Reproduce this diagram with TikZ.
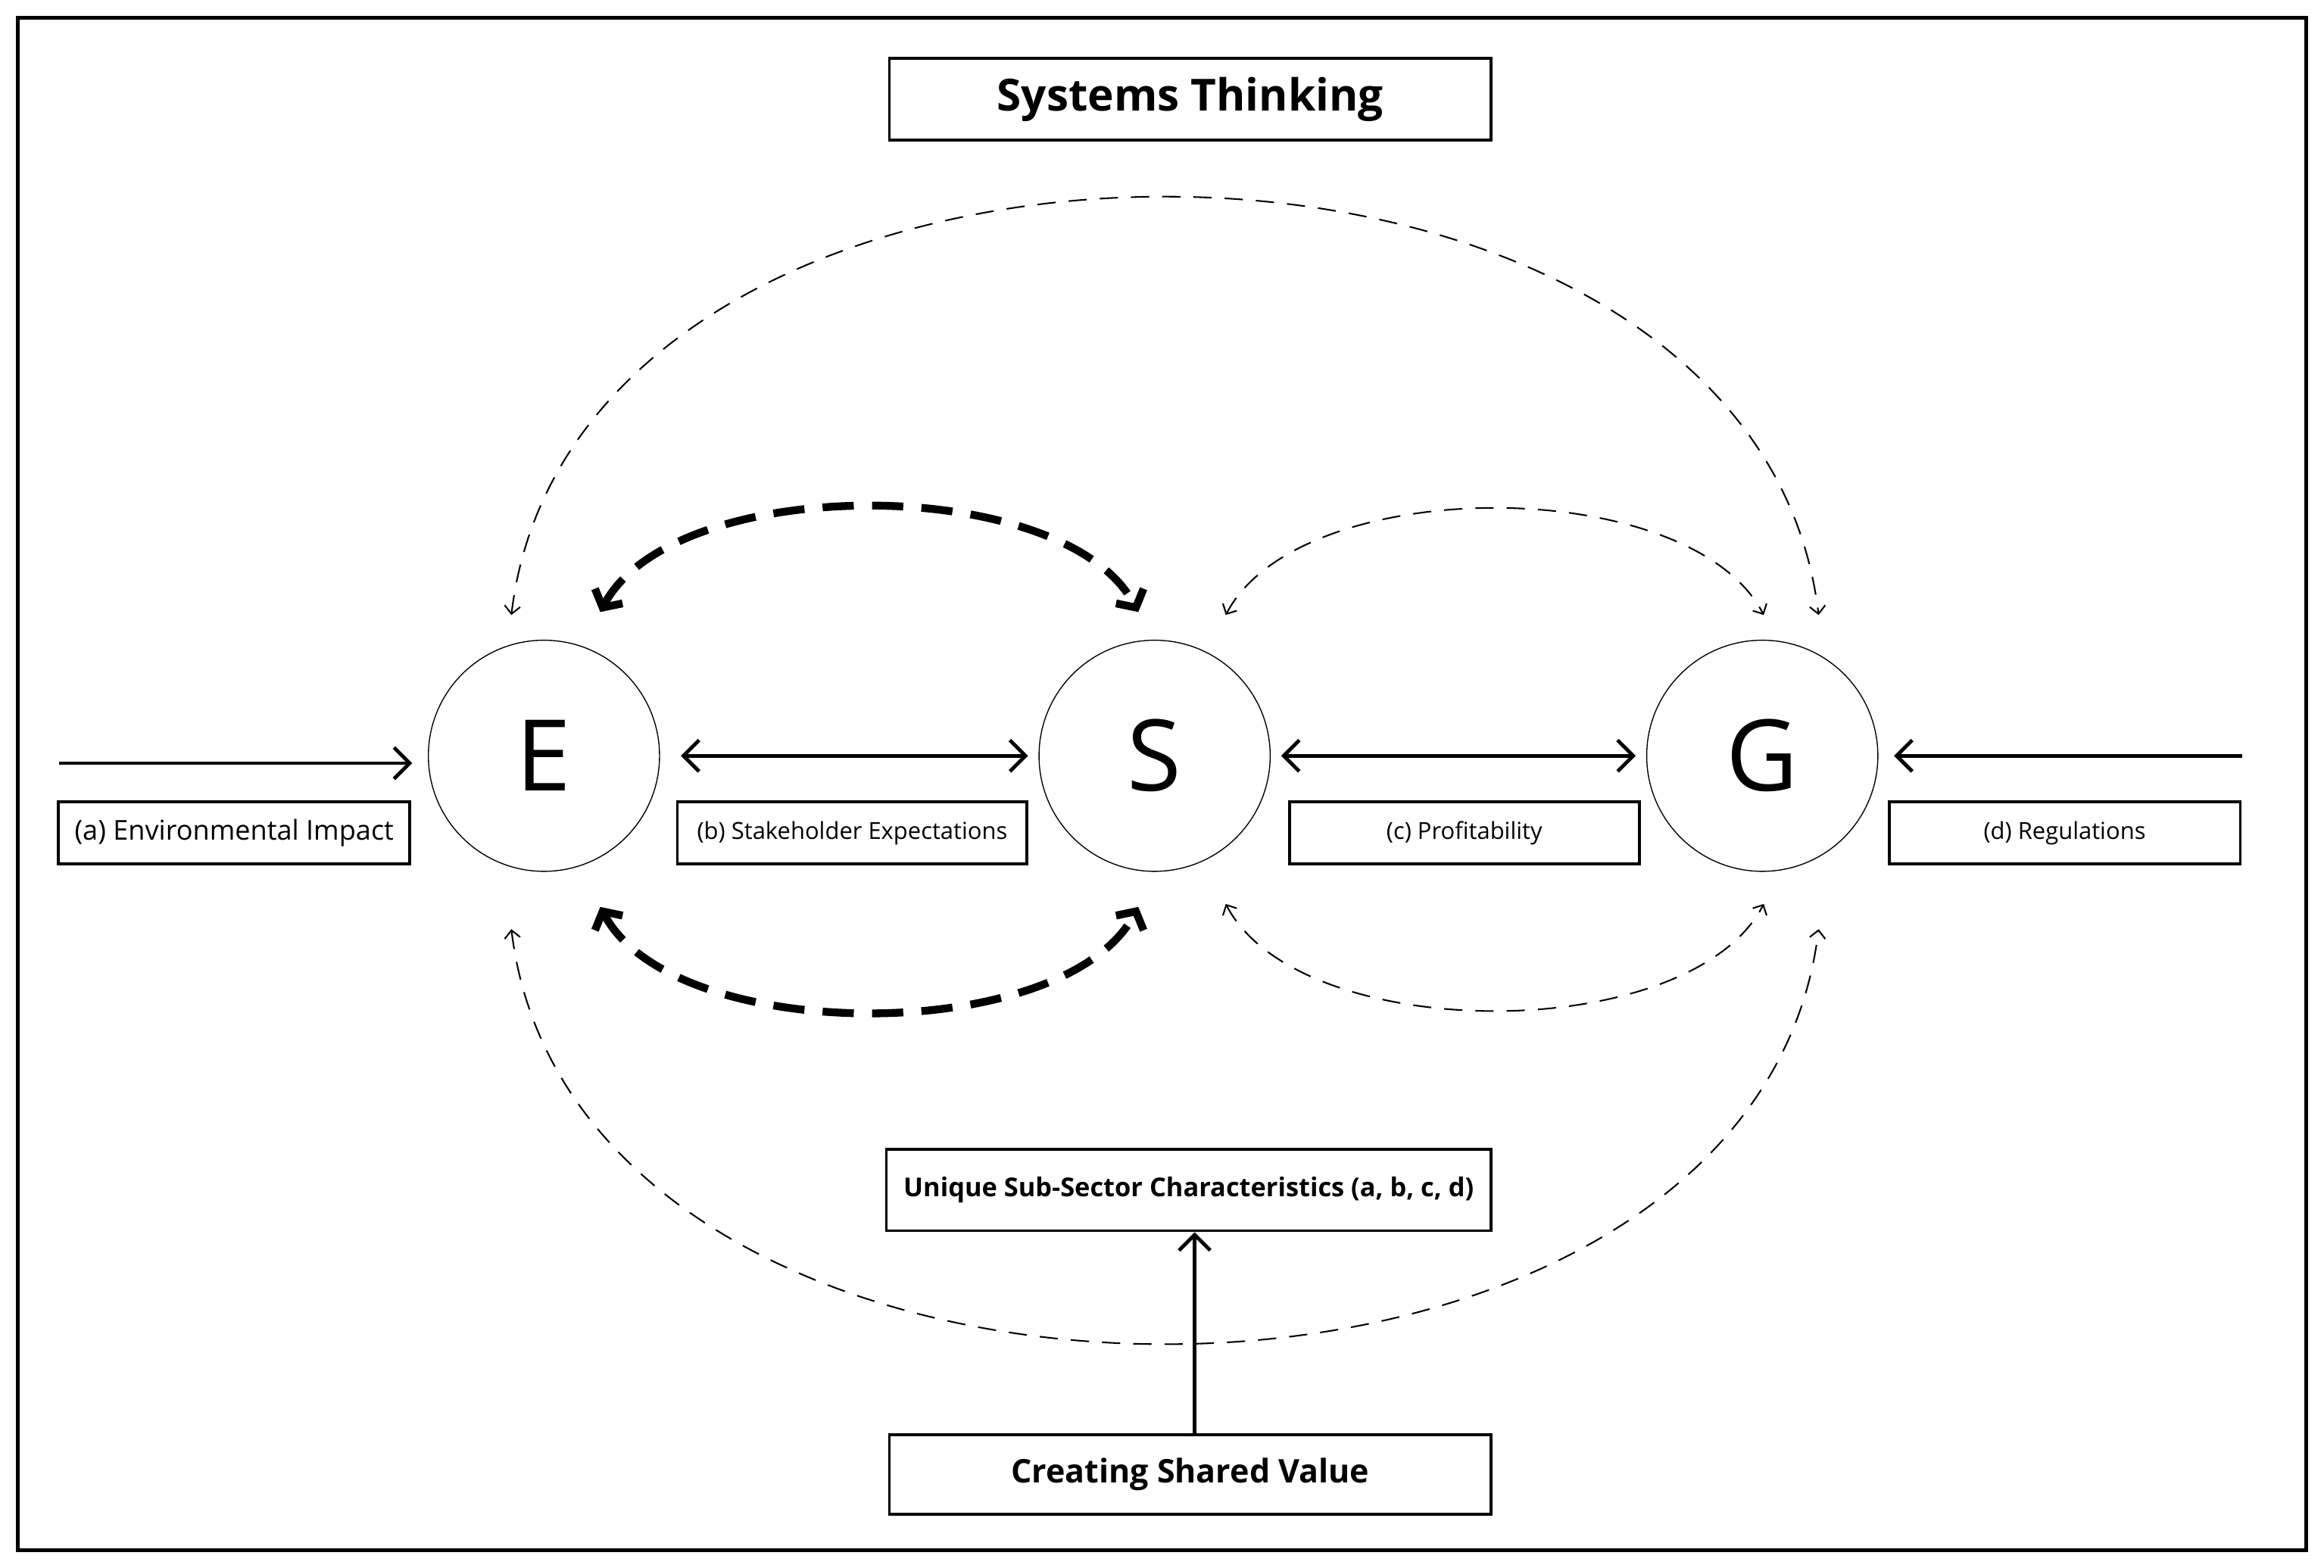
\documentclass[tikz,border=0pt]{standalone}
\usepackage{fontspec}
\setmainfont{Open Sans}
\usetikzlibrary{arrows.meta}
\begin{document}
\begin{tikzpicture}[
    x=0.02cm, y=-0.02cm,
    box_style/.style={draw, black, line width=1.1pt, inner sep=0pt}, % label boxes
    circ_style/.style={draw, black, circle, minimum size=3.12cm, font=\fontsize{38}{40}\selectfont},
    main_arrow/.style={draw, black, line width=1.4pt, {Straight Barb[length=6pt,width=12pt]}-{Straight Barb[length=6pt,width=12pt]}},
    thick_dash/.style={draw, black, line width=3pt, dash pattern=on 12pt off 7pt,
        {Straight Barb[length=5pt,width=12pt]}-{Straight Barb[length=5pt,width=12pt]}},
    thin_dash/.style={draw, black, semithick, dash pattern=on 7pt off 5pt,
        {Straight Barb[length=3pt,width=6pt]}-{Straight Barb[length=3pt,width=6pt]}}
  ]

  % frame
  \useasboundingbox (0,0) rectangle (1568,1058);
  \draw[line width=1.3pt] (12,12) rectangle (1556,1046);

  % title
  \node[box_style, minimum width=8.12cm, minimum height=1.1cm, font=\bfseries\fontsize{17}{20}\selectfont] (title) at (803,67) {Systems Thinking};

  % 1. circles
  \node[circ_style] (E) at (367,510) {E};
  \node[circ_style] (S) at (779,510) {S};
  \node[circ_style] (G) at (1189,510) {G};

  % 2. label boxes
  \node[box_style, minimum width=4.74cm, minimum height=0.84cm, font=\fontsize{10.5}{12}\selectfont] (la) at (158,562) {(a) Environmental Impact};
  \node[box_style, minimum width=4.72cm, minimum height=0.84cm, font=\fontsize{9}{11}\selectfont] (lb) at (575,562) {(b) Stakeholder Expectations};
  \node[box_style, minimum width=4.72cm, minimum height=0.84cm, font=\fontsize{9}{11}\selectfont] (lc) at (988,562) {(c) Profitability};
  \node[box_style, minimum width=4.74cm, minimum height=0.84cm, font=\fontsize{9}{11}\selectfont] (ld) at (1393,562) {(d) Regulations};

  % 3. straight arrows
  \coordinate (inA) at (40,515);
  \coordinate (inD) at (1513,510);
  \draw[line width=1.4pt, -{Straight Barb[length=6pt,width=12pt]}] (inA) -- ([xshift=-6]E.west |- inA);
  \draw[main_arrow] ([xshift=8]E.east) -- ([xshift=-4]S.west);
  \draw[main_arrow] ([xshift=4]S.east) -- ([xshift=-4]G.west);
  \draw[line width=1.4pt, -{Straight Barb[length=6pt,width=12pt]}] (inD) -- ([xshift=6]G.east);

  % 4. dashed loops
  \coordinate (e1) at (405,413); \coordinate (s1) at (768,413);
  \coordinate (e2) at (405,612); \coordinate (s2) at (768,612);
  \draw[thick_dash] (e1) .. controls (455,319) and (718,319) .. (s1);
  \draw[thick_dash] (e2) .. controls (455,706) and (718,706) .. (s2);

  \coordinate (s3) at (827,415); \coordinate (g3) at (1190,415);
  \coordinate (s4) at (827,610); \coordinate (g4) at (1190,610);
  \draw[thin_dash] (s3) .. controls (877,319) and (1140,319) .. (g3);
  \draw[thin_dash] (s4) .. controls (877,706) and (1140,706) .. (g4);

  \coordinate (e5) at (345,415); \coordinate (g5) at (1227,415);
  \coordinate (e6) at (345,627); \coordinate (g6) at (1227,627);
  \draw[thin_dash] (e5) .. controls (390,39) and (1182,39) .. (g5);
  \draw[thin_dash] (e6) .. controls (390,1000) and (1182,1000) .. (g6);

  % 5. bottom boxes
  \node[box_style, minimum width=8.16cm, minimum height=1.1cm, font=\bfseries\fontsize{10}{12}\selectfont] (usc) at (802,803) {Unique Sub-Sector Characteristics (a, b, c, d)};
  \node[box_style, minimum width=8.12cm, minimum height=1.08cm, font=\bfseries\fontsize{12.5}{14}\selectfont] (csv) at (803,995) {Creating Shared Value};
  \draw[line width=1.4pt, -{Straight Barb[length=6pt,width=12pt]}] (csv.north -| 806,0) -- (usc.south -| 806,0);

\end{tikzpicture}
\end{document}
